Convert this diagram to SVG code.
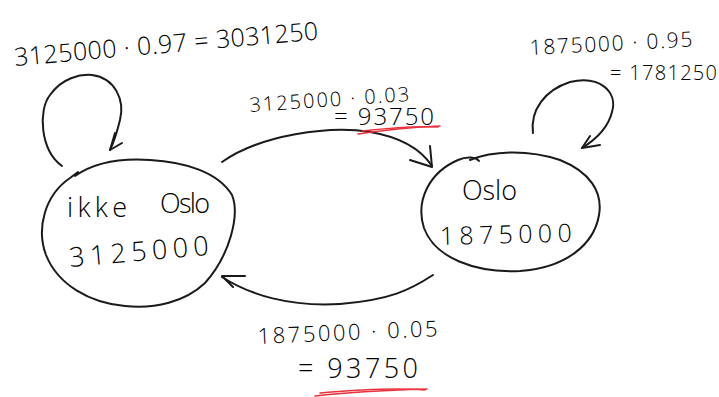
<svg xmlns="http://www.w3.org/2000/svg" width="719" height="397" viewBox="0 0 719 397">
<defs>
<style>
.ink{fill:none;stroke:#1a1a1a;stroke-width:2;stroke-linecap:round;stroke-linejoin:round}
.red{fill:none;stroke:#e8323c;stroke-width:1.6;stroke-linecap:round}
text{font-family:"Open Sans","Liberation Sans","DejaVu Sans",sans-serif;fill:#000000;font-weight:300}
</style>
</defs>
<rect width="719" height="397" fill="#ffffff"/>
<g id="node-ikke-oslo">
<path class="ink" d="M75,176 C95,162 120,158 150,160 C185,162 218,172 232,195 C240,215 230,255 205,283 C185,302 155,309 125,306 C90,303 58,285 46,255 C36,228 45,195 70,178 L78,172"/>
<text x="67" y="217" font-size="27" textLength="60">ikke</text>
<text x="160" y="213" font-size="27" textLength="50">Oslo</text>
<text x="70" y="267" font-size="27" textLength="140" transform="rotate(-5 70 267)">3125000</text>
</g>
<g id="node-oslo">
<path class="ink" d="M470,160 C495,150 530,150 560,160 C590,172 603,192 599,215 C594,245 565,268 520,271 C475,273 435,258 424,228 C415,200 430,172 458,160 C467,156 476,157 479,161"/>
<text x="462" y="200" font-size="27" textLength="55">Oslo</text>
<text x="440" y="245" font-size="25" textLength="132" transform="rotate(-1.5 440 245)">1875000</text>
</g>
<g id="connectors">
<path class="ink" d="M62,166 C40,150 38,110 50,95 C62,78 80,74 92,75 C115,78 125,100 120,120 C117,132 114,142 110,150"/>
<path class="ink" d="M122,143 L110,150 L115,133"/>
<path class="ink" d="M533,133 C530,110 545,90 570,82 C600,75 618,92 612,112 C608,128 595,140 582,148"/>
<path class="ink" d="M600,145 L582,148 L590,136"/>
<path class="ink" d="M222,162 C260,135 330,125 370,132 C400,137 420,148 432,166"/>
<path class="ink" d="M410,160 L432,167 L430,146"/>
<path class="ink" d="M433,275 C410,290 390,300 340,304 C290,307 250,295 222,277"/>
<path class="ink" d="M245,276 L222,276 L233,287"/>
</g>
<g id="labels">
<text x="15" y="66" font-size="25" textLength="305" transform="rotate(-5 15 66)">3125000 · 0.97 = 3031250</text>
<text x="250" y="112" font-size="20" textLength="160" transform="rotate(-4 250 112)">3125000 · 0.03</text>
<text x="334" y="125" font-size="24" textLength="100">= 93750</text>
<path class="red" d="M358,134 C385,130 415,127 440,126"/>
<path class="red" d="M362,131 C390,128 415,126 438,127"/>
<text x="530" y="55" font-size="21" textLength="163" transform="rotate(-3 530 55)">1875000 · 0.95</text>
<text x="610" y="80" font-size="20" textLength="107">= 1781250</text>
<text x="258" y="344" font-size="22" textLength="180" transform="rotate(-2.5 258 344)">1875000 · 0.05</text>
<text x="298" y="378" font-size="27" textLength="120">= 93750</text>
<path class="red" d="M315,396 C350,392 395,390 427,389"/>
<path class="red" d="M320,393 C355,390 400,388 425,390"/>
</g>
</svg>
